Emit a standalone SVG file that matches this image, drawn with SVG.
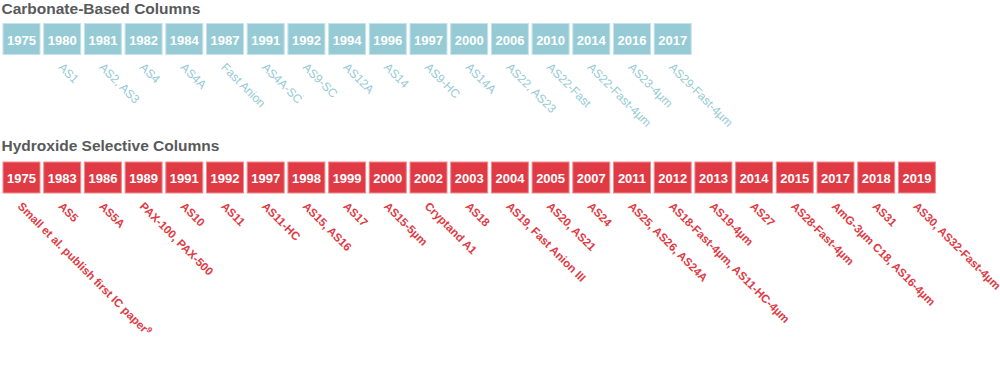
<svg xmlns="http://www.w3.org/2000/svg" width="1000" height="372" viewBox="0 0 1000 372">
<style>
text{font-family:"Liberation Sans",Arial,sans-serif}
.title{font-size:15.5px;font-weight:bold;fill:#58595b}
.yr{font-size:13px;font-weight:bold;fill:#ffffff;text-anchor:middle}
.cb rect{fill:#96cbd6;stroke:#c4e3ea;stroke-width:1}
.hx rect{fill:#e03b45;stroke:#ef8c91;stroke-width:1}
.cl{font-size:12px;fill:#96cbd6}
.hl{font-size:11.5px;font-weight:bold;fill:#e03b45}
</style>
<rect width="1000" height="372" fill="#ffffff"/>
<text class="title" x="1.5" y="13.5">Carbonate-Based Columns</text>
<text class="title" x="1.5" y="151">Hydroxide Selective Columns</text>

<g id="carbonate" class="cb">
<g id="c1975"><rect x="3" y="23.5" width="37" height="31"/><text class="yr" x="21.5" y="44.5">1975</text></g>
<g id="c1980"><rect x="43.7" y="23.5" width="37" height="31"/><text class="yr" x="62.2" y="44.5">1980</text><text class="cl" x="57.7" y="68" transform="rotate(45 57.7 68)">AS1</text></g>
<g id="c1981"><rect x="84.4" y="23.5" width="37" height="31"/><text class="yr" x="102.9" y="44.5">1981</text><text class="cl" x="98.4" y="68" transform="rotate(45 98.4 68)">AS2, AS3</text></g>
<g id="c1982"><rect x="125.1" y="23.5" width="37" height="31"/><text class="yr" x="143.6" y="44.5">1982</text><text class="cl" x="139.1" y="68" transform="rotate(45 139.1 68)">AS4</text></g>
<g id="c1984"><rect x="165.8" y="23.5" width="37" height="31"/><text class="yr" x="184.3" y="44.5">1984</text><text class="cl" x="179.8" y="68" transform="rotate(45 179.8 68)">AS4A</text></g>
<g id="c1987"><rect x="206.5" y="23.5" width="37" height="31"/><text class="yr" x="225" y="44.5">1987</text><text class="cl" x="220.5" y="68" transform="rotate(45 220.5 68)">Fast Anion</text></g>
<g id="c1991"><rect x="247.2" y="23.5" width="37" height="31"/><text class="yr" x="265.7" y="44.5">1991</text><text class="cl" x="261.2" y="68" transform="rotate(45 261.2 68)">AS4A-SC</text></g>
<g id="c1992"><rect x="287.9" y="23.5" width="37" height="31"/><text class="yr" x="306.4" y="44.5">1992</text><text class="cl" x="301.9" y="68" transform="rotate(45 301.9 68)">AS9-SC</text></g>
<g id="c1994"><rect x="328.6" y="23.5" width="37" height="31"/><text class="yr" x="347.1" y="44.5">1994</text><text class="cl" x="342.6" y="68" transform="rotate(45 342.6 68)">AS12A</text></g>
<g id="c1996"><rect x="369.3" y="23.5" width="37" height="31"/><text class="yr" x="387.8" y="44.5">1996</text><text class="cl" x="383.3" y="68" transform="rotate(45 383.3 68)">AS14</text></g>
<g id="c1997"><rect x="410" y="23.5" width="37" height="31"/><text class="yr" x="428.5" y="44.5">1997</text><text class="cl" x="424" y="68" transform="rotate(45 424 68)">AS9-HC</text></g>
<g id="c2000"><rect x="450.7" y="23.5" width="37" height="31"/><text class="yr" x="469.2" y="44.5">2000</text><text class="cl" x="464.7" y="68" transform="rotate(45 464.7 68)">AS14A</text></g>
<g id="c2006"><rect x="491.4" y="23.5" width="37" height="31"/><text class="yr" x="509.9" y="44.5">2006</text><text class="cl" x="505.4" y="68" transform="rotate(45 505.4 68)">AS22, AS23</text></g>
<g id="c2010"><rect x="532.1" y="23.5" width="37" height="31"/><text class="yr" x="550.6" y="44.5">2010</text><text class="cl" x="546.1" y="68" transform="rotate(45 546.1 68)">AS22-Fast</text></g>
<g id="c2014"><rect x="572.8" y="23.5" width="37" height="31"/><text class="yr" x="591.3" y="44.5">2014</text><text class="cl" x="586.8" y="68" transform="rotate(45 586.8 68)">AS22-Fast-4µm</text></g>
<g id="c2016"><rect x="613.5" y="23.5" width="37" height="31"/><text class="yr" x="632" y="44.5">2016</text><text class="cl" x="627.5" y="68" transform="rotate(45 627.5 68)">AS23-4µm</text></g>
<g id="c2017"><rect x="654.2" y="23.5" width="37" height="31"/><text class="yr" x="672.7" y="44.5">2017</text><text class="cl" x="668.2" y="68" transform="rotate(45 668.2 68)">AS29-Fast-4µm</text></g>
</g>

<g id="hydroxide" class="hx">
<g id="h1975"><rect x="3" y="162" width="37" height="31"/><text class="yr" x="21.5" y="182.5">1975</text><text class="hl" x="17" y="207" transform="rotate(45 17 207)">Small et al. publish first IC paper<tspan font-size="8" dy="-4">9</tspan></text></g>
<g id="h1983"><rect x="43.7" y="162" width="37" height="31"/><text class="yr" x="62.2" y="182.5">1983</text><text class="hl" x="57.7" y="207" transform="rotate(45 57.7 207)">AS5</text></g>
<g id="h1986"><rect x="84.4" y="162" width="37" height="31"/><text class="yr" x="102.9" y="182.5">1986</text><text class="hl" x="98.4" y="207" transform="rotate(45 98.4 207)">AS5A</text></g>
<g id="h1989"><rect x="125.1" y="162" width="37" height="31"/><text class="yr" x="143.6" y="182.5">1989</text><text class="hl" x="139.1" y="207" transform="rotate(45 139.1 207)">PAX-100, PAX-500</text></g>
<g id="h1991"><rect x="165.8" y="162" width="37" height="31"/><text class="yr" x="184.3" y="182.5">1991</text><text class="hl" x="179.8" y="207" transform="rotate(45 179.8 207)">AS10</text></g>
<g id="h1992"><rect x="206.5" y="162" width="37" height="31"/><text class="yr" x="225" y="182.5">1992</text><text class="hl" x="220.5" y="207" transform="rotate(45 220.5 207)">AS11</text></g>
<g id="h1997"><rect x="247.2" y="162" width="37" height="31"/><text class="yr" x="265.7" y="182.5">1997</text><text class="hl" x="261.2" y="207" transform="rotate(45 261.2 207)">AS11-HC</text></g>
<g id="h1998"><rect x="287.9" y="162" width="37" height="31"/><text class="yr" x="306.4" y="182.5">1998</text><text class="hl" x="301.9" y="207" transform="rotate(45 301.9 207)">AS15, AS16</text></g>
<g id="h1999"><rect x="328.6" y="162" width="37" height="31"/><text class="yr" x="347.1" y="182.5">1999</text><text class="hl" x="342.6" y="207" transform="rotate(45 342.6 207)">AS17</text></g>
<g id="h2000"><rect x="369.3" y="162" width="37" height="31"/><text class="yr" x="387.8" y="182.5">2000</text><text class="hl" x="383.3" y="207" transform="rotate(45 383.3 207)">AS15-5µm</text></g>
<g id="h2002"><rect x="410" y="162" width="37" height="31"/><text class="yr" x="428.5" y="182.5">2002</text><text class="hl" x="424" y="207" transform="rotate(45 424 207)">Cryptand A1</text></g>
<g id="h2003"><rect x="450.7" y="162" width="37" height="31"/><text class="yr" x="469.2" y="182.5">2003</text><text class="hl" x="464.7" y="207" transform="rotate(45 464.7 207)">AS18</text></g>
<g id="h2004"><rect x="491.4" y="162" width="37" height="31"/><text class="yr" x="509.9" y="182.5">2004</text><text class="hl" x="505.4" y="207" transform="rotate(45 505.4 207)">AS19, Fast Anion III</text></g>
<g id="h2005"><rect x="532.1" y="162" width="37" height="31"/><text class="yr" x="550.6" y="182.5">2005</text><text class="hl" x="546.1" y="207" transform="rotate(45 546.1 207)">AS20, AS21</text></g>
<g id="h2007"><rect x="572.8" y="162" width="37" height="31"/><text class="yr" x="591.3" y="182.5">2007</text><text class="hl" x="586.8" y="207" transform="rotate(45 586.8 207)">AS24</text></g>
<g id="h2011"><rect x="613.5" y="162" width="37" height="31"/><text class="yr" x="632" y="182.5">2011</text><text class="hl" x="627.5" y="207" transform="rotate(45 627.5 207)">AS25, AS26, AS24A</text></g>
<g id="h2012"><rect x="654.2" y="162" width="37" height="31"/><text class="yr" x="672.7" y="182.5">2012</text><text class="hl" x="668.2" y="207" transform="rotate(45 668.2 207)">AS18-Fast-4µm, AS11-HC-4µm</text></g>
<g id="h2013"><rect x="694.9" y="162" width="37" height="31"/><text class="yr" x="713.4" y="182.5">2013</text><text class="hl" x="708.9" y="207" transform="rotate(45 708.9 207)">AS19-4µm</text></g>
<g id="h2014"><rect x="735.6" y="162" width="37" height="31"/><text class="yr" x="754.1" y="182.5">2014</text><text class="hl" x="749.6" y="207" transform="rotate(45 749.6 207)">AS27</text></g>
<g id="h2015"><rect x="776.3" y="162" width="37" height="31"/><text class="yr" x="794.8" y="182.5">2015</text><text class="hl" x="790.3" y="207" transform="rotate(45 790.3 207)">AS28-Fast-4µm</text></g>
<g id="h2017"><rect x="817" y="162" width="37" height="31"/><text class="yr" x="835.5" y="182.5">2017</text><text class="hl" x="831" y="207" transform="rotate(45 831 207)">AmG-3µm C18, AS16-4µm</text></g>
<g id="h2018"><rect x="857.7" y="162" width="37" height="31"/><text class="yr" x="876.2" y="182.5">2018</text><text class="hl" x="871.7" y="207" transform="rotate(45 871.7 207)">AS31</text></g>
<g id="h2019"><rect x="898.4" y="162" width="37" height="31"/><text class="yr" x="916.9" y="182.5">2019</text><text class="hl" x="912.4" y="207" transform="rotate(45 912.4 207)">AS30, AS32-Fast-4µm</text></g>
</g>
</svg>
